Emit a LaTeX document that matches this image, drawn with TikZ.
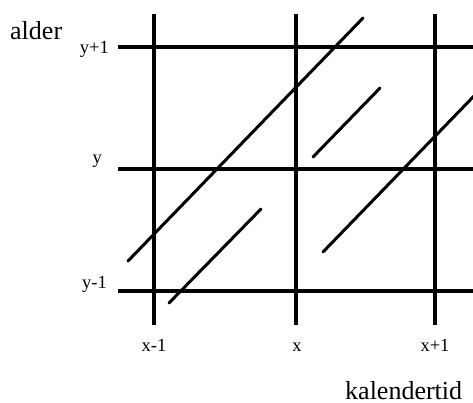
\documentclass[tikz,border=0pt]{standalone}
\usepackage{fontspec}
\setmainfont{Liberation Serif}
\tikzset{
  gitter/.style={line width=3.2pt},
  kohorte/.style={line width=3pt, line cap=round},
  tick/.style={font=\fontsize{18.5}{20}\selectfont, inner sep=0pt},
  akse/.style={font=\fontsize{26}{28}\selectfont, inner sep=0pt}
}
\begin{document}
\begin{tikzpicture}[x=1pt,y=-1pt]
\useasboundingbox (0,0) rectangle (473,403);

% Gitter
\draw[gitter] (154,14) -- (154,325);
\draw[gitter] (296,14) -- (296,325);
\draw[gitter] (435,14) -- (435,325);
\draw[gitter] (118,47) -- (473,47);
\draw[gitter] (118,169) -- (473,169);
\draw[gitter] (118,291) -- (473,291);

% Livslinjer
\draw[kohorte] (128,261) -- (363,18);
\draw[kohorte] (169,303) -- (261,209);
\draw[kohorte] (313,157) -- (380,88);
\draw[kohorte] (323,252) -- (474,96);

% Akser
\node[akse, anchor=base west] (alder) at (10,40) {alder};
\node[akse, anchor=base west] (kalendertid) at (345,399) {kalendertid};

% Aldersklasser
\node[tick, anchor=base east] (yp) at (109,54) {y+1};
\node[tick, anchor=base east] (y0) at (102,164) {y};
\node[tick, anchor=base east] (ym) at (107,288) {y-1};

% Kalenderaar
\node[tick, anchor=base] (xm) at (154,351) {x-1};
\node[tick, anchor=base] (x0) at (297,351) {x};
\node[tick, anchor=base] (xp) at (435,351) {x+1};

\end{tikzpicture}
\end{document}
